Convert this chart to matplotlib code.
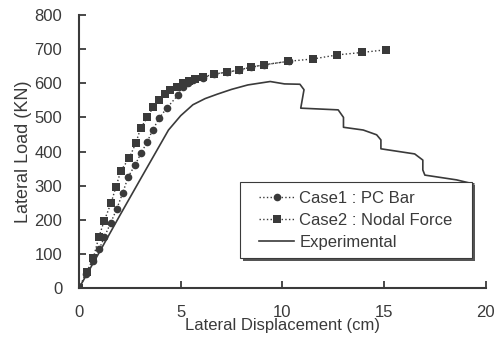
import matplotlib
matplotlib.use("Agg")
import matplotlib.pyplot as plt
from matplotlib.patches import Rectangle

plt.rcParams['font.family'] = ['Liberation Sans', 'DejaVu Sans']

# Case 1: PC bar model (displacement cm, load kN)
case1_disp = [0, 0.35, 0.7, 1.0, 1.25, 1.55, 1.85, 2.15, 2.42, 2.75, 3.05, 3.36, 3.62,
              3.95, 4.31, 4.88, 5.1, 5.37, 5.62, 6.08, 6.63, 7.26, 7.88, 8.45, 9.1, 10.3]
case1_load = [0, 40, 80, 115, 150, 190, 231, 279, 326, 360, 395, 429, 463,
              498, 527, 566, 590, 600, 610, 615, 627, 632, 639, 647, 654, 664]

# Case 2: nodal force model
case2_disp = [0, 0.38, 0.70, 0.98, 1.24, 1.57, 1.82, 2.06, 2.46, 2.79, 3.03, 3.36, 3.65,
              3.95, 4.23, 4.47, 4.8, 5.1, 5.4, 5.7, 6.08, 6.63, 7.26, 7.88, 8.45, 9.1,
              10.25, 11.5, 12.7, 13.9, 15.1]
case2_load = [0, 48, 87, 150, 197, 248, 297, 344, 380, 424, 468, 500, 530,
              551, 568, 581, 590, 600, 607, 612, 617, 627, 632, 639, 647, 654,
              664, 671, 683, 690, 698]

# Experimental envelope
exp_disp = [0, 1.0, 2.0, 3.0, 4.4, 5.0, 5.6, 6.2, 6.8, 7.5, 8.3, 9.4, 10.1, 10.86, 11.06,
            10.9, 12.74, 13.0, 13.0, 13.97, 14.63, 14.84, 14.84, 16.5, 16.9, 16.9, 17.0,
            18.56, 19.4]
exp_load = [0, 105, 212, 317, 463, 505, 537, 555, 568, 582, 595, 605, 598, 597, 581,
            527, 522, 500, 471, 463, 449, 434, 408, 393, 375, 346, 331,
            317, 305]

ink = '#3a3a3a'

fig = plt.figure(figsize=(5.03, 3.39), dpi=100)
ax = fig.add_axes([0.157, 0.150, 0.809, 0.806])

ax.plot(case1_disp, case1_load, color=ink, linestyle=':', linewidth=1.0,
        marker='o', markersize=5.5, markeredgewidth=0, label='Case1 : PC Bar')
ax.plot(case2_disp, case2_load, color=ink, linestyle=':', linewidth=1.0,
        marker='s', markersize=5.5, markeredgewidth=0, label='Case2 : Nodal Force')
ax.plot(exp_disp, exp_load, color=ink, linestyle='-', linewidth=1.2,
        label='Experimental')

ax.set_xlim(0, 20)
ax.set_ylim(0, 800)
ax.set_xticks([0, 5, 10, 15, 20])
ax.set_yticks(range(0, 801, 100))

for side in ('top', 'right'):
    ax.spines[side].set_visible(False)
for side in ('left', 'bottom'):
    ax.spines[side].set_color(ink)
    ax.spines[side].set_linewidth(1.5)

ax.tick_params(direction='in', length=5, width=1.3, color=ink,
               labelsize=12, labelcolor=ink)
ax.tick_params(axis='x', pad=12)
ax.tick_params(axis='y', pad=12)

ax.set_xlabel('Lateral Displacement (cm)', fontsize=12, color=ink, labelpad=-1)
ax.set_ylabel('Lateral Load (KN)', fontsize=13, color=ink, labelpad=2)

# legend box with a drop shadow, drawn by hand
box_x0, box_y0, box_w, box_h = 0.396, 0.110, 0.570, 0.278
ax.add_patch(Rectangle((box_x0 + 0.008, box_y0 - 0.012), box_w, box_h,
                       transform=ax.transAxes, facecolor='#555555',
                       edgecolor='none', zorder=4, clip_on=False))
ax.add_patch(Rectangle((box_x0, box_y0), box_w, box_h, transform=ax.transAxes,
                       facecolor='white', edgecolor=ink, linewidth=0.8,
                       zorder=5, clip_on=False))
leg = ax.legend(loc='center', bbox_to_anchor=(box_x0 + box_w / 2, box_y0 + box_h / 2),
                fontsize=12, frameon=False, handlelength=2.1, numpoints=1,
                handletextpad=0.3, borderpad=0.2, labelspacing=0.42,
                labelcolor=ink)
leg.set_zorder(6)

fig.savefig('out.png', dpi=100)
